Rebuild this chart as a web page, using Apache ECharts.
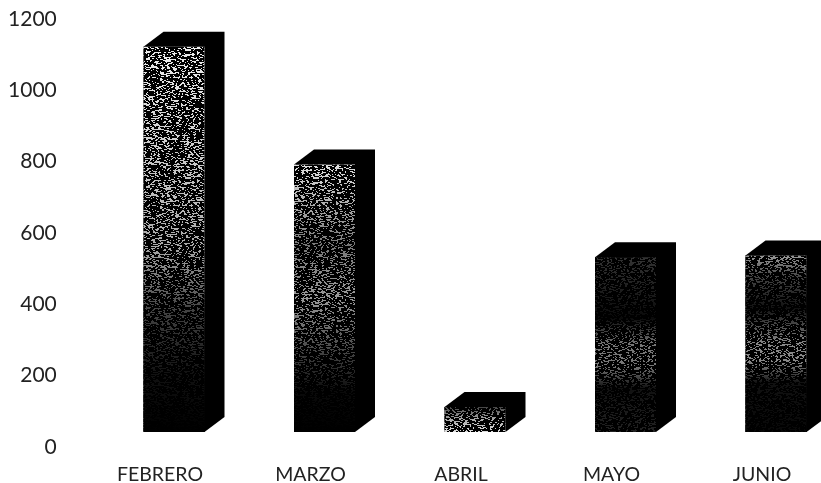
<!DOCTYPE html>
<html>
<head>
<meta charset="utf-8">
<style>
  html, body { margin: 0; padding: 0; background: #fff; }
  #chart { width: 821px; height: 483px; }
</style>
<script src="https://cdn.jsdelivr.net/npm/echarts@6/dist/echarts.min.js"></script>
</head>
<body>
<div id="chart"></div>
<script>
const months = ['FEBRERO', 'MARZO', 'ABRIL', 'MAYO', 'JUNIO']
const values = [1080, 750, 70, 490, 495]

// scanned look of each front face: [offset, grey] from top to bottom
const faceShades = [
  [[0, '#eee'], [0.3, '#c8c8c8'], [0.52, '#a8a8a8'], [0.68, '#444'], [0.85, '#111'], [1, '#000']],
  [[0, '#e0e0e0'], [0.3, '#777'], [0.5, '#999'], [0.7, '#444'], [0.85, '#0a0a0a'], [1, '#000']],
  [[0, '#444'], [0.5, '#aaa'], [1, '#ddd']],
  [[0, '#333'], [0.15, '#222'], [0.35, '#0a0a0a'], [0.5, '#777'], [0.62, '#777'], [0.75, '#111'], [1, '#222']],
  [[0, '#999'], [0.12, '#444'], [0.3, '#111'], [0.5, '#888'], [0.6, '#888'], [0.72, '#111'], [1, '#080808']]
]

const DEPTH_X = 20
const DEPTH_Y = 15
const FACE_W = 61
const FACE_SHIFT = 14

// speckle tile laid over the front faces
const makeSpeckle = () => {
  const size = 128
  const canvas = document.createElement('canvas')
  canvas.width = size
  canvas.height = size
  const ctx = canvas.getContext('2d')
  ctx.fillStyle = '#000'
  let seed = 12345
  for (let y = 0; y < size; y++) {
    for (let x = 0; x < size; x++) {
      seed = (seed * 1103515245 + 12345) & 0x7fffffff
      if ((seed >> 16) % 100 < 45) ctx.fillRect(x, y, 2, 1)
    }
  }
  return canvas
}
const speckle = makeSpeckle()

const renderBar = (params, api) => {
  const index = api.value(0)
  const base = api.coord([index, 0])
  const top = api.coord([index, api.value(1)])
  const x0 = base[0] + FACE_SHIFT - FACE_W / 2
  const x1 = x0 + FACE_W
  const yBase = base[1] - DEPTH_Y
  const yTop = top[1] - DEPTH_Y
  const face = { x: x0, y: yTop, width: FACE_W, height: yBase - yTop }
  return {
    type: 'group',
    children: [
      {
        type: 'polygon',
        shape: {
          points: [
            [x0, yTop],
            [x0 + DEPTH_X, yTop - DEPTH_Y],
            [x1 + DEPTH_X, yTop - DEPTH_Y],
            [x1 + DEPTH_X, yBase - DEPTH_Y],
            [x1, yBase],
            [x0, yBase]
          ]
        },
        style: { fill: '#000' }
      },
      {
        type: 'rect',
        shape: face,
        style: {
          fill: new echarts.graphic.LinearGradient(0, 0, 0, 1,
            faceShades[index].map(([offset, color]) => ({ offset, color })))
        }
      },
      {
        type: 'rect',
        shape: face,
        style: { fill: { image: speckle, repeat: 'repeat' } }
      }
    ]
  }
}

const chart = echarts.init(document.getElementById('chart'), null, { renderer: 'canvas' })
chart.setOption({
  animation: false,
  backgroundColor: '#fff',
  grid: { left: 84.75, width: 752.5, top: 19, height: 428, outerBoundsMode: 'none' },
  xAxis: {
    type: 'category',
    data: months,
    axisLine: { show: false },
    axisTick: { show: false },
    axisLabel: { color: '#222', fontFamily: 'Lato', fontSize: 19.5, margin: 18 }
  },
  yAxis: {
    type: 'value',
    min: 0,
    max: 1200,
    interval: 200,
    axisLine: { show: false },
    axisTick: { show: false },
    splitLine: { show: false },
    axisLabel: {
      color: '#222',
      fontFamily: 'Lato',
      fontSize: 21,
      margin: 28,
      formatter: (value) => String(value)
    }
  },
  series: [
    {
      type: 'custom',
      clip: false,
      renderItem: renderBar,
      encode: { x: 0, y: 1 },
      data: values.map((value, i) => [i, value])
    }
  ]
})
</script>
</body>
</html>
